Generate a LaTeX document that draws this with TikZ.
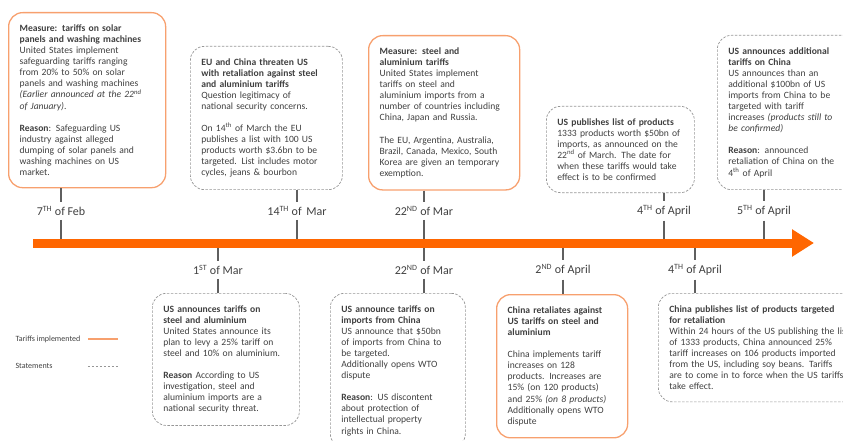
\documentclass[tikz,border=0pt]{standalone}
\usepackage{fontspec}
\setmainfont{Carlito}
\usetikzlibrary{arrows.meta,positioning}
\definecolor{corange}{RGB}{255,102,0}
\definecolor{cbox}{RGB}{247,160,110}
\definecolor{cdash}{RGB}{150,150,150}
\definecolor{ctext}{RGB}{64,64,64}
\definecolor{ctick}{RGB}{95,95,95}
\newcommand{\Dsup}[1]{\textsuperscript{#1}}

\begin{document}
\begin{tikzpicture}[x=1pt,y=-1pt,
    every node/.style={text=ctext},
    note/.style={anchor=north west, align=left, rounded corners=14pt,
      inner xsep=11pt, inner ysep=12pt, font=\fontsize{9.6}{11.1}\selectfont},
    measure/.style={note, draw=cbox, line width=1.3pt},
    statement/.style={note, draw=cdash, line width=0.7pt, dash pattern=on 2.5pt off 1.5pt},
    datelbl/.style={font=\fontsize{12}{13}\selectfont, inner sep=1pt, outer sep=3pt},
    tickline/.style={draw=ctick, line width=2pt},
    legendtxt/.style={font=\fontsize{8}{9}\selectfont, anchor=west}]
    \useasboundingbox (0,0) rectangle (843,441);
    \clip (0,0) rectangle (843,441);

    % events above the time line
    \node[measure, text width=135pt] (feb) at (8,12)
      {\textbf{Measure: tariffs on solar}\\
       \textbf{panels and washing machines}\\
       United States implement\\
       safeguarding tariffs ranging\\
       from 20\% to 50\% on solar\\
       panels and washing machines\\
       \textit{(Earlier announced at the 22\Dsup{nd}}\\
       \textit{of January)}.\\[11pt]
       \textbf{Reason}: Safeguarding US\\
       industry against alleged\\
       dumping of solar panels and\\
       washing machines on US\\
       market.};
    \node[statement, text width=130pt] (mar14) at (190,46)
      {\textbf{EU and China threaten US}\\
       \textbf{with retaliation against steel}\\
       \textbf{and aluminium tariffs}\\
       Question legitimacy of\\
       national security concerns.\\[11pt]
       On 14\Dsup{th} of March the EU\\
       publishes a list with 100 US\\
       products worth \$3.6bn to be\\
       targeted. List includes motor\\
       cycles, jeans \& bourbon};
    \node[measure, text width=129pt] (mar22) at (368,35)
      {\textbf{Measure: steel and}\\
       \textbf{aluminium tariffs}\\
       United States implement\\
       tariffs on steel and\\
       aluminium imports from a\\
       number of countries including\\
       China, Japan and Russia.\\[11pt]
       The EU, Argentina, Australia,\\
       Brazil, Canada, Mexico, South\\
       Korea are given an temporary\\
       exemption.};
    \node[statement, text width=126pt] (apr4) at (546,106)
      {\textbf{US publishes list of products}\\
       1333 products worth \$50bn of\\
       imports, as announced on the\\
       22\Dsup{nd} of March. The date for\\
       when these tariffs would take\\
       effect is to be confirmed};
    \node[statement, text width=124pt] (apr5) at (717,35)
      {\textbf{US announces additional}\\
       \textbf{tariffs on China}\\
       US announces than an\\
       additional \$100bn of US\\
       imports from China to be\\
       targeted with tariff\\
       increases \textit{(products still to}\\
       \textit{be confirmed)}\\[11pt]
       \textbf{Reason}: announced\\
       retaliation of China on the\\
       4\Dsup{th} of April};

    % events below the time line
    \node[statement, text width=125pt] (mar1) at (152,293)
      {\textbf{US announces tariffs on}\\
       \textbf{steel and aluminium}\\
       United States announce its\\
       plan to levy a 25\% tariff on\\
       steel and 10\% on aluminium.\\[11pt]
       \textbf{Reason} According to US\\
       investigation, steel and\\
       aluminium imports are a\\
       national security threat.};
    \node[statement, text width=113pt] (mar22b) at (330,293)
      {\textbf{US announce tariffs on}\\
       \textbf{imports from China}\\
       US announce that \$50bn\\
       of imports from China to\\
       be targeted.\\
       Additionally opens WTO\\
       dispute\\[11pt]
       \textbf{Reason}: US discontent\\
       about protection of\\
       intellectual property\\
       rights in China.};
    \node[measure, text width=109pt] (apr2) at (496,294)
      {\textbf{China retaliates against}\\
       \textbf{US tariffs on steel and}\\
       \textbf{aluminium}\\[11pt]
       China implements tariff\\
       increases on 128\\
       products. Increases are\\
       15\% (on 120 products)\\
       and 25\% \textit{(on 8 products)}\\
       Additionally opens WTO\\
       dispute};
    \node[statement, text width=200pt] (apr4b) at (658,293)
      {\textbf{China publishes list of products targeted}\\
       \textbf{for retaliation}\\
       Within 24 hours of the US publishing the list\\
       of 1333 products, China announced 25\%\\
       tariff increases on 106 products imported\\
       from the US, including soy beans. Tariffs\\
       are to come in to force when the US tariffs\\
       take effect.};

    % dates
    \node[datelbl] (dfeb)   at (61,211)  {7\Dsup{TH} of Feb};
    \node[datelbl] (dmar14) at (297,211) {14\Dsup{TH} of\, Mar};
    \node[datelbl] (dmar22) at (424,211) {22\Dsup{ND} of Mar};
    \node[datelbl] (dapr4)  at (664,211) {4\Dsup{TH} of April};
    \node[datelbl] (dapr5)  at (764,211) {5\Dsup{TH} of April};
    \node[datelbl] (dmar1)  at (218,270) {1\Dsup{ST} of Mar};
    \node[datelbl] (dmar22b) at (424,270) {22\Dsup{ND} of Mar};
    \node[datelbl] (dapr2)  at (563,270) {2\Dsup{ND} of April};
    \node[datelbl] (dapr4b) at (695,270) {4\Dsup{TH} of April};

    \coordinate (tstart) at (33,243);
    \coordinate (tend) at (814,243);

    % connectors
    \foreach \ev/\dt in {feb/dfeb, mar14/dmar14, mar22/dmar22, apr4/dapr4, apr5/dapr5} {
      \draw[tickline] (\ev.south -| \dt) -- (\dt.north);
      \draw[tickline] (\dt.south) -- (\dt.south |- tstart);
    }
    \foreach \ev/\dt in {mar1/dmar1, mar22b/dmar22b, apr2/dapr2, apr4b/dapr4b} {
      \draw[tickline] (tstart -| \dt) -- (\dt.north);
      \draw[tickline] (\dt.south) -- (\ev.north -| \dt);
    }

    % time line
    \draw[corange, line width=9pt, -{Triangle[length=22pt,width=26pt]}] (tstart) -- (tend);

    % legend
    \node[legendtxt] (lgtariff) at (12,339) {Tariffs implemented};
    \node[legendtxt] (lgstate) at (12,366) {Statements};
    \draw[cbox, line width=1.5pt] ([xshift=4pt]lgtariff.east) -- ++(30,0);
    \draw[cdash, line width=0.7pt, dash pattern=on 2.5pt off 1.5pt] (lgstate.east -| lgtariff.east) ++(4pt,0) -- ++(30,0);
\end{tikzpicture}
\end{document}
